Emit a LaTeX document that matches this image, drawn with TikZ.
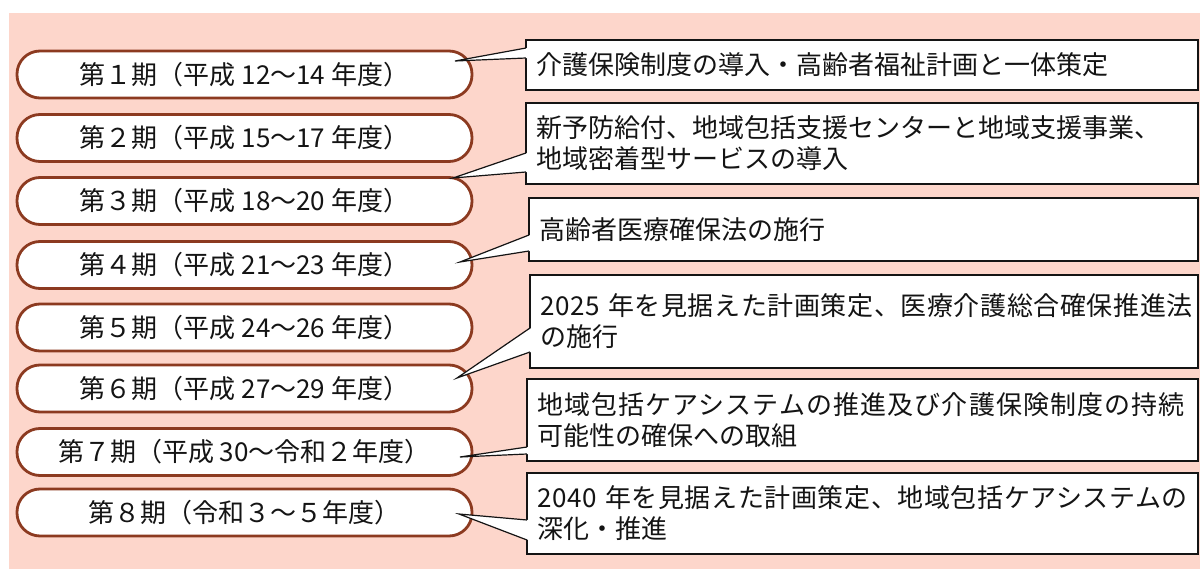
\documentclass[tikz,border=0pt]{standalone}
\usepackage{fontspec}
\setmainfont{Noto Sans CJK JP}
\newfontfamily\jpwa[LetterSpace=2.3]{Noto Sans CJK JP}
\newfontfamily\jpwb[LetterSpace=4.3]{Noto Sans CJK JP}
\usetikzlibrary{calc}
\definecolor{bgpink}{RGB}{253,214,203}
\definecolor{brn}{RGB}{140,58,32}
\definecolor{ink}{RGB}{20,20,20}
\tikzset{
  period/.style={draw=brn, line width=2.8pt, fill=white, rounded corners=23pt,
    minimum width=455pt, minimum height=47pt, inner sep=0pt, outer sep=0pt,
    font=\fontsize{26}{30}\selectfont, text=ink},
  cbox/.style={draw=ink, line width=1.4pt, fill=white, anchor=north west,
    inner xsep=10pt, inner ysep=0pt, outer sep=0pt, align=left,
    font=\fontsize{26}{31}\selectfont, text=ink},
  cline/.style={draw=ink, line width=1.2pt, line join=miter}
}
\newcommand\wedgeto[4]{%
  \fill[white] ($(#1.north west)+(1.2,#2)$) -- (#4) -- ($(#1.north west)+(1.2,#3)$) -- cycle;
  \draw[cline] ($(#1.north west)+(0,#2)$) -- (#4) -- ($(#1.north west)+(0,#3)$);}
\begin{document}
\begin{tikzpicture}[x=1pt,y=-1pt]
\useasboundingbox (0,0) rectangle (1200,569);
\fill[bgpink] (9,13) rectangle (1200,569);

\node[period] (p1) at (244.5,74.5) {第１期（平成 12～14 年度）};
\node[period] (p2) at (244.5,138) {第２期（平成 15～17 年度）};
\node[period] (p3) at (244.5,201) {第３期（平成 18～20 年度）};
\node[period] (p4) at (244.5,265) {第４期（平成 21～23 年度）};
\node[period] (p5) at (244.5,327.5) {第５期（平成 24～26 年度）};
\node[period] (p6) at (244.5,388.5) {第６期（平成 27～29 年度）};
\node[period] (p7) at (244.5,452) {第７期（平成 30～令和２年度）};
\node[period] (p8) at (244.5,512.5) {第８期（令和３～５年度）};

\coordinate (t1) at (455,61);
\coordinate (t2) at (453,178);
\coordinate (t3) at (460,262);
\coordinate (t4) at (457,378);
\coordinate (t5) at (460,457);
\coordinate (t6) at (459,514);

\node[cbox, text width=652pt, minimum height=50pt] (b1) at (526,40)
  {介護保険制度の導入・高齢者福祉計画と一体策定};
\node[cbox, text width=652pt, minimum height=81pt] (b2) at (526,103)
  {新予防給付、地域包括支援センターと地域支援事業、\\地域密着型サービスの導入};
\node[cbox, text width=649pt, minimum height=63pt] (b3) at (529,198)
  {高齢者医療確保法の施行};
\node[cbox, text width=648pt, minimum height=93pt] (b4) at (530,275)
  {{\jpwa 2025 年を見据えた計画策定、医療介護総合確保推進法}\\の施行};
\node[cbox, text width=651pt, minimum height=82pt] (b5) at (527,379)
  {{\jpwb 地域包括ケアシステムの推進及び介護保険制度の持続}\\可能性の確保への取組};
\node[cbox, text width=651pt, minimum height=81pt] (b6) at (527,473)
  {{\jpwa 2040 年を見据えた計画策定、地域包括ケアシステムの}\\深化・推進};

\wedgeto{b1}{8}{18}{t1}
\wedgeto{b2}{50}{69}{t2}
\wedgeto{b3}{37}{53}{t3}
\wedgeto{b4}{53}{77}{t4}
\wedgeto{b5}{68}{75}{t5}
\wedgeto{b6}{47}{67}{t6}
\end{tikzpicture}
\end{document}
